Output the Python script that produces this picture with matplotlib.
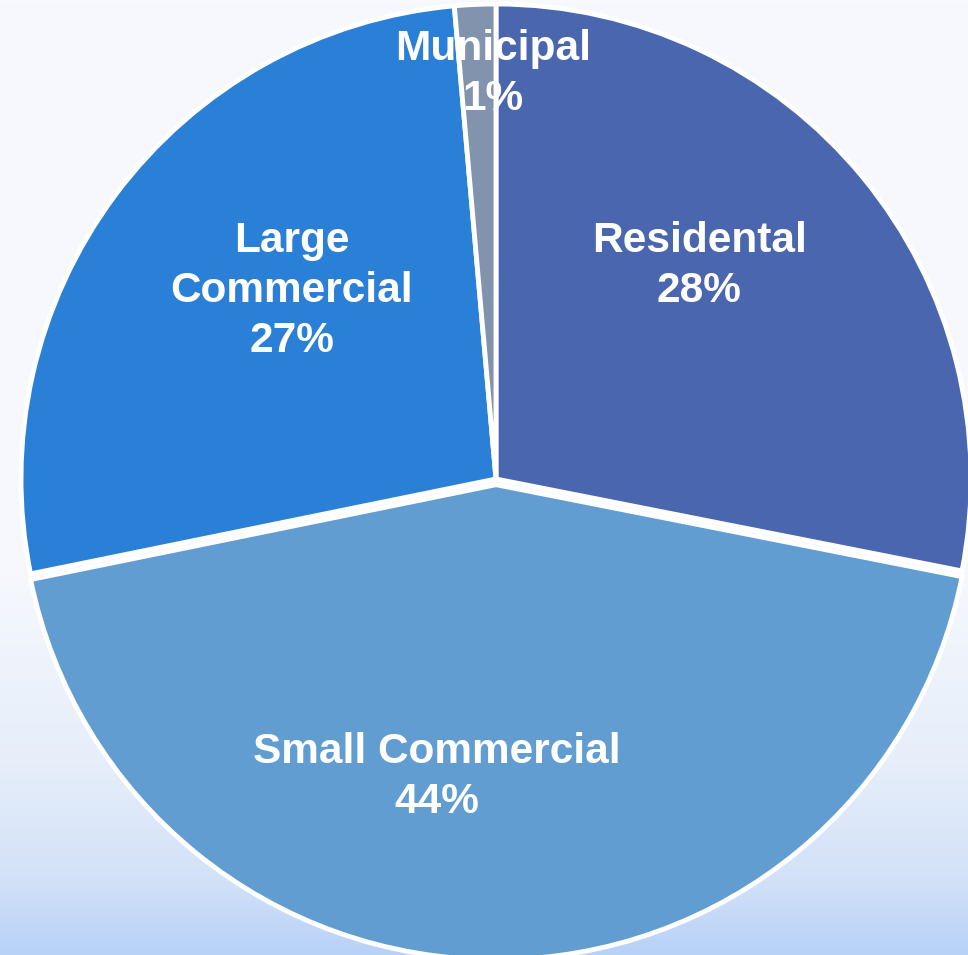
import numpy as np
import matplotlib
matplotlib.use("Agg")
import matplotlib.pyplot as plt
from matplotlib.colors import LinearSegmentedColormap

categories = ["Residental", "Small Commercial", "Large Commercial", "Municipal"]
label_text = ["Residental", "Small Commercial", "Large\nCommercial", "Municipal"]
values = [28.1, 43.7, 26.8, 1.4]
colors = ["#4a66ae", "#619dd0", "#2a7fd6", "#8193ad"]
explode = [0.0, 0.012, 0.0, 0.0]
# label positions (fraction of radius, angle in degrees)
label_pos = [(0.62, 46.4), (0.64, -101.2), (0.584, 137.4), (0.852, 90.4)]

W, H = 968, 955
fig = plt.figure(figsize=(W / 100, H / 100), dpi=100)

# background gradient
bg = fig.add_axes([0, 0, 1, 1])
bg.set_axis_off()
cmap = LinearSegmentedColormap.from_list(
    "bg", [(0.0, "#f8f9fd"), (0.60, "#f6f8fd"), (0.80, "#e6eefa"), (0.92, "#d3e2f8"), (1.0, "#b8d1f6")])
grad = np.linspace(0, 1, 256).reshape(-1, 1)
bg.imshow(grad, aspect="auto", cmap=cmap, extent=[0, 1, 0, 1], origin="upper")
bg.set_xlim(0, 1)
bg.set_ylim(0, 1)

cx, cy, r = 496, 479, 475
ax = fig.add_axes([(cx - r) / W, (H - cy - r) / H, 2 * r / W, 2 * r / H])
ax.set_axis_off()
ax.patch.set_alpha(0)

total = sum(values)
wedges, _ = ax.pie(values, colors=colors, startangle=90, counterclock=False,
                   explode=explode, radius=1.0,
                   wedgeprops=dict(edgecolor="white", linewidth=3.5))
ax.set_xlim(-1, 1)
ax.set_ylim(-1, 1)
ax.set_aspect("equal")

for txt, v, (d, a) in zip(label_text, values, label_pos):
    pct = f"{round(v / total * 100):d}%"
    x = d * np.cos(np.radians(a))
    y = d * np.sin(np.radians(a))
    ax.text(x, y, f"{txt}\n{pct}", ha="center", va="center", color="white",
            fontsize=30.5, fontweight="bold", family=["Liberation Sans", "DejaVu Sans"],
            linespacing=1.32, multialignment="center")

fig.savefig("out.png", dpi=100)
